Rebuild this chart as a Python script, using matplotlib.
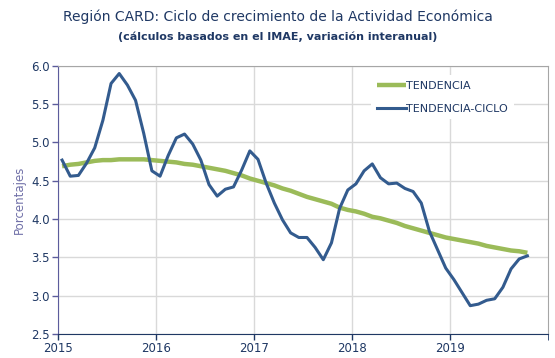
import numpy as np
import matplotlib; matplotlib.use("Agg"); import matplotlib.pyplot as plt

plt.rcParams.update({"font.family": "DejaVu Sans"})

# monthly values, Jan 2015 .. Oct 2019
tendencia_ciclo = [4.77, 4.56, 4.57, 4.73, 4.93, 5.29, 5.77, 5.90, 5.75, 5.55, 5.12, 4.63,
                   4.56, 4.83, 5.06, 5.11, 4.98, 4.77, 4.45, 4.30, 4.39, 4.42, 4.64, 4.89,
                   4.78, 4.47, 4.21, 3.99, 3.82, 3.76, 3.76, 3.63, 3.47, 3.69, 4.14, 4.38,
                   4.46, 4.63, 4.72, 4.54, 4.46, 4.47, 4.40, 4.36, 4.21, 3.84, 3.60, 3.36,
                   3.21, 3.04, 2.87, 2.89, 2.94, 2.96, 3.11, 3.35, 3.48, 3.52]
tendencia = [4.69, 4.71, 4.72, 4.74, 4.76, 4.77, 4.77, 4.78, 4.78, 4.78, 4.78, 4.77,
             4.76, 4.75, 4.74, 4.72, 4.71, 4.69, 4.67, 4.65, 4.63, 4.60, 4.57, 4.53,
             4.50, 4.47, 4.44, 4.40, 4.37, 4.33, 4.29, 4.26, 4.23, 4.20, 4.15, 4.12,
             4.10, 4.07, 4.03, 4.01, 3.98, 3.95, 3.91, 3.88, 3.85, 3.82, 3.79, 3.76,
             3.74, 3.72, 3.70, 3.68, 3.65, 3.63, 3.61, 3.59, 3.58, 3.56]
years = [2015, 2016, 2017, 2018, 2019]
t = 2015 + (np.arange(len(tendencia)) + 0.5) / 12

NAVY = "#1f3864"; GREEN = "#9bbb59"; BLUE = "#335b8e"
fig = plt.figure(figsize=(5.55, 3.58), dpi=100)
ax = fig.add_axes([0.1045, 0.067, 0.8825, 0.749])
ax.plot(t, tendencia, color=GREEN, lw=3.2, label="TENDENCIA", solid_capstyle="butt", zorder=3)
ax.plot(t, tendencia_ciclo, color=BLUE, lw=2.2, label="TENDENCIA-CICLO", zorder=4)
ax.set_xlim(2015, 2020); ax.set_ylim(2.5, 6.0)
ax.set_xticks(years); ax.set_yticks(np.arange(2.5, 6.01, 0.5))
ax.set_yticklabels([f"{v:.1f}" for v in np.arange(2.5, 6.01, 0.5)])
ax.grid(True, color="#d9d9d9", lw=1.0, zorder=0)
ax.tick_params(colors=NAVY, labelsize=8.5, length=4, width=1, pad=2)
for s in ("top", "right"):
    ax.spines[s].set_color("#a6a6a6")
ax.spines["bottom"].set_color(NAVY); ax.spines["left"].set_color("#5c5c9c")
ax.tick_params(axis="y", color="#5c5c9c")
ax.set_xticks([2020], minor=True); ax.tick_params(axis="x", which="minor", length=4, color=NAVY)
ax.set_ylabel("Porcentajes", color="#7070a8", fontsize=8.5, labelpad=4)
leg = ax.legend(loc="upper left", bbox_to_anchor=(0.64, 0.965), frameon=True, fontsize=8,
                handlelength=2.6, handletextpad=0.05, borderaxespad=0, labelspacing=1.15,
                borderpad=0.5)
leg.get_frame().set_edgecolor("none"); leg.get_frame().set_alpha(1); leg.get_frame().set_boxstyle("square", pad=0)
for txt in leg.get_texts(): txt.set_color(NAVY)
fig.text(0.5, 0.952, "Región CARD: Ciclo de crecimiento de la Actividad Económica",
         ha="center", va="center", fontsize=10, color=NAVY)
fig.text(0.5, 0.897, "(cálculos basados en el IMAE, variación interanual)",
         ha="center", va="center", fontsize=8, color=NAVY, weight="bold")
fig.savefig("out.png", dpi=100)
